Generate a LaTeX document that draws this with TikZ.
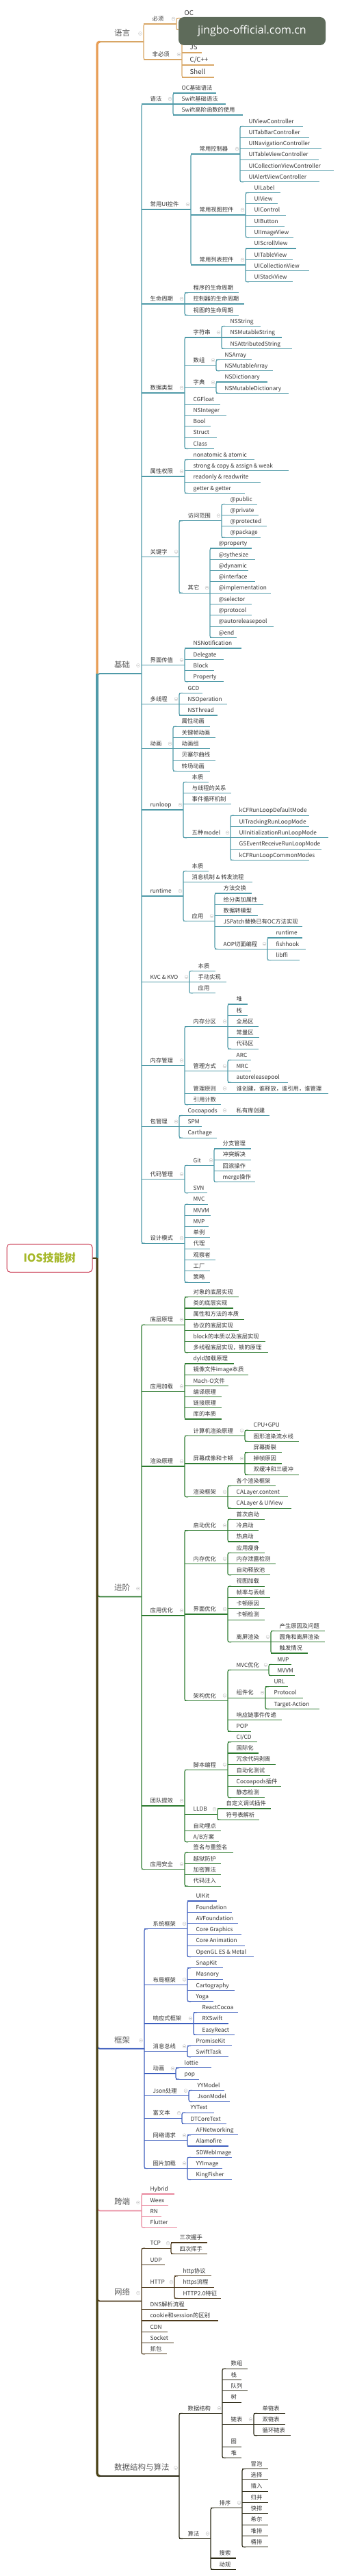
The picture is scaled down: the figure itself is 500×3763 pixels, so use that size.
\documentclass[tikz,border=0pt]{standalone}
\usepackage{fontspec}
\setmainfont{Noto Sans CJK SC}
\newfontfamily\wmfont{Open Sans}
\definecolor{c1}{HTML}{D8A665}
\definecolor{c1s}{HTML}{E89E55}
\definecolor{c2}{HTML}{4F9AA8}
\definecolor{c3}{HTML}{2E7B30}
\definecolor{c4}{HTML}{3E5FBE}
\definecolor{c5}{HTML}{E8879C}
\definecolor{c6}{HTML}{4E3A1C}
\definecolor{c7}{HTML}{2C2A16}
\definecolor{c7s}{HTML}{4A4216}
\definecolor{txtc}{HTML}{333333}
\definecolor{l1c}{HTML}{5C5C5C}
\definecolor{iconc}{HTML}{C4C4C4}
\definecolor{rootb}{HTML}{C8364F}
\definecolor{roott}{HTML}{A6B82A}
\definecolor{wmc}{HTML}{5E6B5A}
\tikzset{
  ln/.style={line width=1.1pt, draw=\bc},
  lf/.style={anchor=base west, inner sep=0pt, text=txtc, font=\fontsize{8.3}{10}\selectfont},
  lfb/.style={lf, font=\fontsize{9.6}{11}\selectfont},
  l1t/.style={anchor=base west, inner sep=0pt, text=l1c, font=\fontsize{11.5}{13}\selectfont},
  icon/.style={circle, draw=iconc, line width=0.4pt, inner sep=0pt, minimum size=5pt, fill=white,
    path picture={\draw[iconc, line width=0.5pt] ([xshift=-1.4pt]path picture bounding box.center) -- ([xshift=1.4pt]path picture bounding box.center);}},
  rootbox/.style={draw=rootb, line width=1pt, rounded corners=5pt, fill=white, minimum width=125pt,
    minimum height=41pt, text=roott, font=\fontsize{16}{18}\selectfont\bfseries},
  spine/.style={line width=3.2pt},
}
\newcommand\N[5]{%
  \coordinate (#1-l) at (#2,#4);
  \coordinate (#1-r) at (#3,#4);
  \draw[ln] (#1-l) -- (#1-r);
  \node[lf] (#1) at ([xshift=12.5pt,yshift=4.3pt]#1-l) {#5};}
\newcommand\Nb[5]{%
  \coordinate (#1-l) at (#2,#4);
  \coordinate (#1-r) at (#3,#4);
  \draw[ln] (#1-l) -- (#1-r);
  \node[lfb] (#1) at ([xshift=11.5pt,yshift=4.3pt]#1-l) {#5};}
\newcommand\Np[5]{\N{#1}{#2}{#3}{#4}{#5}\node[icon] (#1-i) at ([xshift=-4.5pt,yshift=7.5pt]#1-r) {};}
\newcommand\B[2]{\draw[ln, rounded corners=2.5pt] ([xshift=5pt]#1-l) -- (#1-l) -- (#2-l) -- ([xshift=5pt]#2-l);}
\newcommand\Lone[5]{%
  \coordinate (#1-l) at (142,#3);
  \coordinate (#1-r) at (#2,#3);
  \draw[line width=1.8pt, draw=\bc, rounded corners=4pt] ([yshift=#5]#1-l) -- (#1-l) -- (#1-r);
  \node[l1t] (#1) at (167,#3-8.6) {#4};
  \node[icon] (#1-i) at ([xshift=-5pt,yshift=12pt]#1-r) {};}
\begin{document}
\begin{tikzpicture}[x=1pt,y=-1pt]
\fill[white] (0,0) rectangle (500,3763);
\useasboundingbox (0,0) rectangle (500,3763);
\node[rootbox] (root) at (72.5,1837.8) {IOS技能树};

% ---------------- 语言
\def\bc{c1}
\Lone{yy}{210}{61}{语言}{-6pt}
\Np{bx}{210}{258}{35}{必须}
\Np{fbx}{210}{266}{87}{非必须}
\B{bx}{fbx}
\Nb{oc}{258}{288}{26.5}{OC}
\Nb{swift}{258}{298}{43.5}{Swift}
\B{oc}{swift}
\Nb{java}{266}{303}{60}{Java}
\Nb{js}{266}{295}{77}{JS}
\Nb{cpp}{266}{313}{95}{C/C++}
\Nb{shell}{266}{313}{113}{Shell}
\B{java}{shell}

% ---------------- 基础
\def\bc{c2}
\Lone{jc}{207}{984}{基础}{-6pt}
\Np{yf}{207}{253}{152}{语法}
\N{a1}{253}{316}{136}{OC基础语法}
\N{a2}{253}{330}{152}{Swift基础语法}
\N{a3}{253}{355}{168}{Swift高阶函数的使用}
\B{a1}{a3}
\Np{ui}{207}{279}{306}{常用UI控件}
\Np{ctl}{279}{351}{225}{常用控制器}
\N{ct1}{351}{443}{184.3}{UIViewController}
\N{ct2}{351}{452}{200.6}{UITabBarController}
\N{ct3}{351}{470}{216.9}{UINavigationController}
\N{ct4}{351}{466}{233.2}{UITableViewController}
\N{ct5}{351}{488}{249.5}{UICollectionViewController}
\N{ct6}{351}{467}{265.8}{UIAlertViewController}
\B{ct1}{ct6}
\Np{vw}{279}{359}{314}{常用视图控件}
\N{v1}{359}{410}{281.5}{UILabel}
\N{v2}{359}{406}{297.8}{UIView}
\N{v3}{359}{418}{314.1}{UIControl}
\N{v4}{359}{416}{330.4}{UIButton}
\N{v5}{359}{429}{346.7}{UIImageView}
\B{v1}{v5}
\Np{lst}{279}{359}{387}{常用列表控件}
\N{t1}{359}{433}{363}{UIScrollView}
\N{t2}{359}{428}{379.3}{UITableView}
\N{t3}{359}{452}{395.6}{UICollectionView}
\N{t4}{359}{428}{411.9}{UIStackView}
\B{t1}{t4}
\B{ctl}{lst}
\Np{sm}{207}{270}{444}{生命周期}
\N{s1}{270}{349}{427.7}{程序的生命周期}
\N{s2}{270}{357}{444}{控制器的生命周期}
\N{s3}{270}{349}{460.3}{视图的生命周期}
\B{s1}{s3}
\Np{dt}{207}{270}{574}{数据类型}
\Np{str}{270}{324}{493}{字符串}
\N{d1}{324}{381}{476.5}{NSString}
\N{d2}{324}{412}{493}{NSMutableString}
\N{d3}{324}{427}{509.3}{NSAttributedString}
\B{d1}{d3}
\Np{arr}{270}{316}{533.6}{数组}
\N{d4}{316}{368}{525.5}{NSArray}
\N{d5}{316}{399}{541.8}{NSMutableArray}
\B{d4}{d5}
\Np{dic}{270}{316}{566.2}{字典}
\N{d6}{316}{391}{558}{NSDictionary}
\N{d7}{316}{422}{574.3}{NSMutableDictionary}
\B{d6}{d7}
\N{d8}{270}{322}{590.3}{CGFloat}
\N{d9}{270}{331}{606.6}{NSInteger}
\N{d10}{270}{308}{622.9}{Bool}
\N{d11}{270}{317}{639.2}{Struct}
\N{d12}{270}{313}{655.5}{Class}
\B{str}{d12}
\Np{pr}{207}{270}{696}{属性权限}
\N{p1}{270}{372}{671.5}{nonatomic \& atomic}
\N{p2}{270}{422}{687.8}{strong \& copy \& assign \& weak}
\N{p3}{270}{381}{704.1}{readonly \& readwrite}
\N{p4}{270}{358}{720.4}{getter \& getter}
\B{p1}{p4}
\Np{kw}{207}{262}{813.5}{关键字}
\Np{acc}{262}{324}{760.7}{访问范围}
\N{k1}{324}{376}{736.3}{@public}
\N{k2}{324}{378}{752.6}{@private}
\N{k3}{324}{390}{768.9}{@protected}
\N{k4}{324}{381}{785.2}{@package}
\B{k1}{k4}
\Np{oth}{262}{307}{866.2}{其它}
\N{o1}{307}{368}{801}{@property}
\N{o2}{307}{373}{817.3}{@sythesize}
\N{o3}{307}{363}{833.6}{@dynamic}
\N{o4}{307}{373}{849.9}{@interface}
\N{o5}{307}{396}{866.2}{@implementation}
\N{o6}{307}{368}{882.5}{@selector}
\N{o7}{307}{368}{898.8}{@protocol}
\N{o8}{307}{400}{915.1}{@autoreleasepool}
\N{o9}{307}{346}{931.4}{@end}
\B{o1}{o9}
\B{acc}{oth}
\Np{ifc}{207}{270}{971.5}{界面传值}
\N{f1}{270}{353}{947}{NSNotification}
\N{f2}{270}{327}{963.3}{Delegate}
\N{f3}{270}{313}{979.6}{Block}
\N{f4}{270}{327}{995.9}{Property}
\B{f1}{f4}
\Np{mt}{207}{262}{1028.7}{多线程}
\N{m1}{262}{296}{1012.4}{GCD}
\N{m2}{262}{332}{1028.7}{NSOperation}
\N{m3}{262}{318}{1045}{NSThread}
\B{m1}{m3}
\Np{an}{207}{253}{1093.8}{动画}
\N{n1}{253}{307}{1061.2}{属性动画}
\N{n2}{253}{315}{1077.5}{关键帧动画}
\N{n3}{253}{307}{1093.8}{动画组}
\N{n4}{253}{315}{1110.1}{贝塞尔曲线}
\N{n5}{253}{307}{1126.4}{转场动画}
\B{n1}{n5}
\Np{rl}{207}{268}{1183}{runloop}
\N{r1}{268}{305}{1142.3}{本质}
\N{r2}{268}{338}{1158.6}{与线程的关系}
\N{r3}{268}{338}{1174.9}{事件循环机制}
\Np{r4}{268}{337}{1223.8}{五种model}
\N{r5}{337}{452}{1191.2}{kCFRunLoopDefaultMode}
\N{r6}{337}{452}{1207.5}{UITrackingRunLoopMode}
\N{r7}{337}{480}{1223.8}{UIInitializationRunLoopMode}
\N{r8}{337}{470}{1240.1}{GSEventReceiveRunLoopMode}
\N{r9}{337}{452}{1256.4}{kCFRunLoopCommonModes}
\B{r5}{r9}
\B{r1}{r4}
\Np{rt}{207}{268}{1309}{runtime}
\N{u1}{268}{305}{1272.4}{本质}
\N{u2}{268}{369}{1288.7}{消息机制 \& 转发流程}
\Np{app}{268}{314}{1345.6}{应用}
\N{u3}{314}{368}{1305}{方法交换}
\N{u4}{314}{385}{1321.3}{给分类加属性}
\N{u5}{314}{377}{1337.6}{数据转模型}
\N{u6}{314}{442}{1353.9}{JSPatch替换已有OC方法实现}
\Np{aop}{314}{391}{1386.3}{AOP切面编程}
\N{u7}{391}{442}{1370}{runtime}
\N{u8}{391}{447}{1386.3}{fishhook}
\N{u9}{391}{438}{1402.6}{libffi}
\B{u7}{u9}
\B{u3}{aop}
\B{u1}{app}
\Np{kv}{207}{277}{1434.6}{KVC \& KVO}
\N{kv1}{277}{315}{1418.3}{本质}
\N{kv2}{277}{331}{1434.6}{手动实现}
\N{kv3}{277}{315}{1450.9}{应用}
\B{kv1}{kv3}
\Np{mm}{207}{270}{1556.6}{内存管理}
\Np{mpart}{270}{333}{1499.6}{内存分区}
\N{q1}{333}{362}{1467}{堆}
\N{q2}{333}{362}{1483.3}{栈}
\N{q3}{333}{378}{1499.6}{全局区}
\N{q4}{333}{379}{1515.9}{常量区}
\N{q5}{333}{378}{1532.2}{代码区}
\B{q1}{q5}
\Np{mway}{270}{333}{1564.8}{管理方式}
\N{q6}{333}{367}{1548.5}{ARC}
\N{q7}{333}{367}{1564.8}{MRC}
\N{q8}{333}{421}{1581.1}{autoreleasepool}
\B{q6}{q8}
\Np{mrule}{270}{333}{1597.4}{管理原则}
\N{q9}{333}{480}{1597.4}{谁创建，谁释放，谁引用，谁管理}
\N{q10}{270}{323}{1613.7}{引用计数}
\B{mpart}{q10}
\Np{pk}{207}{262}{1645.8}{包管理}
\Np{cp}{262}{333}{1629.5}{Cocoapods}
\N{cp1}{333}{394}{1629.5}{私有库创建}
\N{spm}{262}{295}{1645.8}{SPM}
\N{cth}{262}{317}{1662.1}{Carthage}
\B{cp}{cth}
\Np{cm}{207}{270}{1722.6}{代码管理}
\Np{git}{270}{313}{1702.3}{Git}
\N{g1}{313}{367}{1678}{分支管理}
\N{g2}{313}{367}{1694.2}{冲突解决}
\N{g3}{313}{367}{1710.4}{回滚操作}
\N{g4}{313}{373}{1726.6}{merge操作}
\B{g1}{g4}
\N{svn}{270}{303}{1742.9}{SVN}
\B{git}{svn}
\Np{dp}{207}{270}{1816.1}{设计模式}
\N{e1}{270}{304}{1759.1}{MVC}
\N{e2}{270}{308}{1775.4}{MVVM}
\N{e3}{270}{305}{1791.6}{MVP}
\N{e4}{270}{307}{1807.9}{单例}
\N{e5}{270}{307}{1824.2}{代理}
\N{e6}{270}{315}{1840.5}{观察者}
\N{e7}{270}{307}{1856.8}{工厂}
\N{e8}{270}{307}{1873.1}{策略}
\B{e1}{e8}
\B{yf}{dp}

% ---------------- 进阶
\def\bc{c3}
\Lone{jj}{207}{2332.5}{进阶}{6pt}
\Np{dc}{207}{270}{1935.2}{底层原理}
\N{h1}{270}{349}{1894.7}{对象的底层实现}
\N{h2}{270}{341}{1911}{类的底层实现}
\N{h3}{270}{357}{1927.2}{属性和方法的本质}
\N{h4}{270}{349}{1943.4}{协议的底层实现}
\N{h5}{270}{388}{1959.6}{block的本质以及底层实现}
\N{h6}{270}{392}{1975.8}{多线程底层实现，锁的原理}
\B{h1}{h6}
\Np{al}{207}{270}{2032.5}{应用加载}
\N{w1}{270}{342}{1992}{dyld加载原理}
\N{w2}{270}{363}{2008.2}{镜像文件image本质}
\N{w3}{270}{334}{2024.4}{Mach-O文件}
\N{w4}{270}{324}{2040.6}{编译原理}
\N{w5}{270}{324}{2056.8}{链接原理}
\N{w6}{270}{324}{2073}{库的本质}
\B{w1}{w6}
\Np{rd}{207}{270}{2142}{渲染原理}
\Np{rd1}{270}{358}{2097.3}{计算机渲染原理}
\N{x1}{358}{410}{2089.2}{CPU+GPU}
\N{x2}{358}{437}{2105.4}{图形渲染流水线}
\B{x1}{x2}
\Np{rd2}{270}{358}{2138}{屏幕成像和卡顿}
\N{x3}{358}{412}{2121.7}{屏幕撕裂}
\N{x4}{358}{412}{2138}{掉帧原因}
\N{x5}{358}{437}{2154.2}{双缓冲和三缓冲}
\B{x3}{x5}
\Np{rd3}{270}{333}{2186.8}{渲染框架}
\N{x6}{333}{403}{2170.5}{各个渲染框架}
\N{x7}{333}{421}{2186.8}{CALayer.content}
\N{x8}{333}{426}{2203.1}{CALayer \& UIView}
\B{x6}{x8}
\B{rd1}{rd3}
\Np{ao}{207}{270}{2360}{应用优化}
\Np{ao1}{270}{333}{2235.7}{启动优化}
\N{z1}{333}{387}{2219.4}{首次启动}
\N{z2}{333}{378}{2235.7}{冷启动}
\N{z3}{333}{378}{2252}{热启动}
\B{z1}{z3}
\Np{ao2}{270}{333}{2284.6}{内存优化}
\N{z4}{333}{387}{2268.3}{应用瘦身}
\N{z5}{333}{403}{2284.6}{内存泄露检测}
\N{z6}{333}{395}{2300.9}{自动释放池}
\B{z4}{z6}
\Np{ao3}{270}{333}{2358}{界面优化}
\N{z7}{333}{387}{2317.2}{视图加载}
\N{z8}{333}{395}{2333.5}{帧率与丢帧}
\N{z9}{333}{387}{2349.8}{卡顿原因}
\N{z10}{333}{387}{2366.1}{卡顿检测}
\Np{osr}{333}{396}{2398.7}{离屏渲染}
\N{z11}{396}{475}{2382.4}{产生原因及问题}
\N{z12}{396}{475}{2398.7}{圆角和离屏渲染}
\N{z13}{396}{450}{2415}{触发情况}
\B{z11}{z13}
\B{z7}{osr}
\Np{ao4}{270}{333}{2484.3}{架构优化}
\Np{mvco}{333}{393}{2439.5}{MVC优化}
\N{z14}{393}{426}{2431.3}{MVP}
\N{z15}{393}{431}{2447.6}{MVVM}
\B{z14}{z15}
\Np{comp}{333}{388}{2480.2}{组件化}
\N{z16}{388}{421}{2463.9}{URL}
\N{z17}{388}{443}{2480.2}{Protocol}
\N{z18}{388}{467}{2496.5}{Target-Action}
\B{z16}{z18}
\N{z19}{333}{412}{2512.8}{响应链事件传递}
\N{z20}{333}{367}{2529.1}{POP}
\B{mvco}{z20}
\B{ao1}{ao4}
\Np{te}{207}{270}{2638}{团队提效}
\Np{sc}{270}{333}{2585.3}{脚本编程}
\N{y1}{333}{376}{2544.7}{CI/CD}
\N{y2}{333}{378}{2561}{国际化}
\N{y3}{333}{403}{2577.2}{冗余代码剥离}
\N{y4}{333}{395}{2593.4}{自动化测试}
\N{y5}{333}{411}{2609.6}{Cocoapods插件}
\N{y6}{333}{387}{2625.8}{静态检测}
\B{y1}{y6}
\Np{lldb}{270}{318}{2650.2}{LLDB}
\N{y7}{318}{396}{2642}{自定义调试插件}
\N{y8}{318}{379}{2658.3}{符号表解析}
\B{y7}{y8}
\N{y9}{270}{323}{2674.5}{自动埋点}
\N{y10}{270}{320}{2690.7}{A/B方案}
\B{sc}{y10}
\Np{sec}{207}{270}{2730.6}{应用安全}
\N{y11}{270}{341}{2706.2}{签名与重签名}
\N{y12}{270}{323}{2722.5}{越狱防护}
\N{y13}{270}{323}{2738.8}{加密算法}
\N{y14}{270}{323}{2755.1}{代码注入}
\B{y11}{y14}
\B{dc}{sec}

% ---------------- 框架
\def\bc{c4}
\Lone{kj}{211}{2992.7}{框架}{6pt}
\Np{sys}{211}{274}{2817.7}{系统框架}
\N{s11}{274}{317}{2777}{UIKit}
\N{s12}{274}{339}{2793.3}{Foundation}
\N{s13}{274}{348}{2809.6}{AVFoundation}
\N{s14}{274}{353}{2825.9}{Core Graphics}
\N{s15}{274}{358}{2842.2}{Core Animation}
\N{s16}{274}{371}{2858.5}{OpenGL ES \& Metal}
\B{s11}{s16}
\Np{lay}{211}{274}{2899.3}{布局框架}
\N{s17}{274}{326}{2874.8}{SnapKit}
\N{s18}{274}{326}{2891.1}{Masnory}
\N{s19}{274}{343}{2907.4}{Cartography}
\N{s20}{274}{312}{2923.7}{Yoga}
\B{s17}{s20}
\Np{rx}{211}{283}{2956}{响应式框架}
\N{s21}{283}{348}{2939.7}{ReactCocoa}
\N{s22}{283}{334}{2956}{RXSwift}
\N{s23}{283}{343}{2972.3}{EasyReact}
\B{s21}{s23}
\Np{bus}{211}{274}{2996.6}{消息总线}
\N{s24}{274}{339}{2988.5}{PromiseKit}
\N{s25}{274}{334}{3004.8}{SwiftTask}
\B{s24}{s25}
\Np{fan}{211}{257}{3029}{动画}
\N{s26}{257}{309}{3020.9}{lottie}
\N{s27}{257}{291}{3037.2}{pop}
\B{s26}{s27}
\Np{json}{211}{276}{3061.6}{Json处理}
\N{s28}{276}{328}{3053.5}{YYModel}
\N{s29}{276}{336}{3069.8}{JsonModel}
\B{s28}{s29}
\Np{rich}{211}{266}{3094.2}{富文本}
\N{s30}{266}{313}{3086.1}{YYText}
\N{s31}{266}{331}{3102.4}{DTCoreText}
\B{s30}{s31}
\Np{net}{211}{274}{3126.8}{网络请求}
\N{s32}{274}{348}{3118.7}{AFNetworking}
\N{s33}{274}{334}{3135}{Alamofire}
\B{s32}{s33}
\Np{img}{211}{274}{3167.6}{图片加载}
\N{s34}{274}{339}{3151.3}{SDWebImage}
\N{s35}{274}{325}{3167.6}{YYImage}
\N{s36}{274}{339}{3183.9}{KingFisher}
\B{s34}{s36}
\B{sys}{img}

% ---------------- 跨端
\def\bc{c5}
\Lone{kd}{207}{3229.4}{跨端}{6pt}
\N{kd1}{207}{255}{3205}{Hybrid}
\N{kd2}{207}{246}{3221.3}{Weex}
\N{kd3}{207}{236}{3237.6}{RN}
\N{kd4}{207}{259}{3253.9}{Flutter}
\B{kd1}{kd4}

% ---------------- 网络
\def\bc{c6}
\Lone{wl}{207}{3361.5}{网络}{6pt}
\Np{tcp}{207}{250}{3284.2}{TCP}
\N{nw1}{250}{303}{3276}{三次握手}
\N{nw2}{250}{303}{3292.3}{四次挥手}
\B{nw1}{nw2}
\N{udp}{207}{241}{3308.6}{UDP}
\Np{http}{207}{255}{3341.1}{HTTP}
\N{nw3}{255}{309}{3324.8}{http协议}
\N{nw4}{255}{313}{3341.1}{https流程}
\N{nw5}{255}{323}{3357.4}{HTTP2.0特征}
\B{nw3}{nw5}
\N{dns}{207}{274}{3373.7}{DNS解析流程}
\N{ck}{207}{319}{3390}{cookie和session的区别}
\N{cdn}{207}{245}{3406.3}{CDN}
\N{sock}{207}{254}{3422.6}{Socket}
\N{zb}{207}{244}{3438.9}{抓包}
\B{tcp}{zb}

% ---------------- 数据结构与算法
\def\bc{c7}
\Lone{dsa}{262}{3617}{数据结构与算法}{6pt}
\Np{ds}{262}{325}{3525.3}{数据结构}
\N{ds1}{325}{362}{3460.2}{数组}
\N{ds2}{325}{353}{3476.5}{栈}
\N{ds3}{325}{362}{3492.8}{队列}
\N{ds4}{325}{353}{3509.1}{树}
\Np{lk}{325}{371}{3541.6}{链表}
\N{ds5}{371}{417}{3525.3}{单链表}
\N{ds6}{371}{417}{3541.6}{双链表}
\N{ds7}{371}{425}{3557.9}{循环链表}
\B{ds5}{ds7}
\N{ds8}{325}{353}{3574.2}{图}
\N{ds9}{325}{353}{3590.5}{堆}
\B{ds1}{ds9}
\Np{alg}{262}{308}{3708.5}{算法}
\Np{sort}{308}{354}{3663.6}{排序}
\N{so1}{354}{392}{3606.6}{冒泡}
\N{so2}{354}{392}{3622.9}{选择}
\N{so3}{354}{392}{3639.2}{插入}
\N{so4}{354}{392}{3655.5}{归并}
\N{so5}{354}{392}{3671.8}{快排}
\N{so6}{354}{392}{3688.1}{希尔}
\N{so7}{354}{392}{3704.4}{堆排}
\N{so8}{354}{392}{3720.7}{桶排}
\B{so1}{so8}
\N{srch}{308}{345}{3737}{搜索}
\N{dgh}{308}{345}{3753.3}{动规}
\B{sort}{dgh}
\B{ds}{alg}

% ---------------- spine
\coordinate (sp) at (142,1838);
\draw[spine, c1s, rounded corners=4pt] (sp) -- (yy-l) -- ([xshift=4pt]yy-l);
\draw[spine, c2] (sp) -- (jc-l);
\draw[line width=2pt, c7s] (root.east) -- (sp);
\draw[spine, c7s, rounded corners=4pt] (sp) -- (dsa-l) -- ([xshift=4pt]dsa-l);

% ---------------- watermark
\node[fill=wmc, rounded corners=8pt, minimum width=215pt, minimum height=41pt, inner sep=0pt,
  text=white, font=\wmfont\fontsize{16}{18}\selectfont] (wm) at (368.5,45.5) {jingbo-official.com.cn};
\end{tikzpicture}
\end{document}
